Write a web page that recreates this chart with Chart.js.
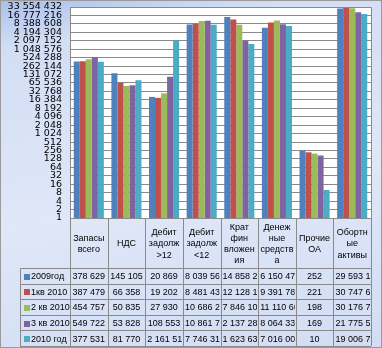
<!DOCTYPE html>
<html>
<head>
<meta charset="utf-8">
<script src="https://cdn.jsdelivr.net/npm/chart.js@4"></script>
<style>
  html, body { margin: 0; padding: 0; }
  body {
    width: 382px; height: 348px; overflow: hidden;
    background: linear-gradient(170deg, #a9bfea 0%, #d3def5 12%, #dfe7f8 55%, #d2ddf4 100%);
  }
  #wrap { position: relative; width: 382px; height: 348px; }
</style>
</head>
<body>
<div id="wrap"><canvas id="c" width="382" height="348"></canvas></div>
<script>
// -- Data --
const categories = [
  ['Запасы', 'всего'],
  ['НДС'],
  ['Дебит', 'задолж', '>12'],
  ['Дебит', 'задолж', '<12'],
  ['Крат', 'фин', 'вложен', 'ия'],
  ['Денеж', 'ные', 'средств', 'а'],
  ['Прочие', 'ОА'],
  ['Обортн', 'ые', 'активы']
];
const seriesNames = ['2009год', '1кв 2010', '2 кв 2010', '3 кв 2010', '2010 год'];
const y2009 = [378629, 145105, 20869, 8039560, 14858200, 6150470, 252, 29593100];
const q1_2010 = [387479, 66358, 19202, 8481430, 12128100, 9391780, 221, 30747600];
const q2_2010 = [454757, 50835, 27930, 10686200, 7846100, 11110600, 198, 30176700];
const q3_2010 = [549722, 53828, 108553, 10861700, 2137280, 8064330, 169, 21775500];
const y2010 = [377531, 81770, 2161510, 7746310, 1623630, 7016000, 10, 19006700];
const yTicks = [1, 2, 4, 8, 16, 32, 64, 128, 256, 512, 1024, 2048, 4096, 8192, 16384, 32768,
  65536, 131072, 262144, 524288, 1048576, 2097152, 4194304, 8388608, 16777216, 33554432];

const seriesData = [y2009, q1_2010, q2_2010, q3_2010, y2010];
const colors = ['#4f81bd', '#c0504d', '#9bbb59', '#8064a2', '#4bacc6'];
const lineColor = '#8a8a8a';
const fontFam = '"Liberation Sans", Arial, sans-serif';

function fmt(v) {
  return String(Math.round(v)).replace(/\B(?=(\d{3})+(?!\d))/g, ' ');
}

// -- Plugins --
const plotBg = {
  id: 'plotBg',
  beforeDraw(chart) {
    const { ctx, chartArea: a } = chart;
    ctx.save();
    ctx.fillStyle = '#fff';
    ctx.fillRect(a.left, a.top, a.right - a.left, a.bottom - a.top);
    ctx.restore();
  }
};

const dataTable = {
  id: 'dataTable',
  afterDraw(chart) {
    const { ctx, chartArea: a } = chart;
    const xs = chart.scales.x;
    const n = categories.length;
    const colW = (a.right - a.left) / n;
    const edges = [];
    for (let i = 0; i < n; i++) edges.push(xs.getPixelForValue(i) - colW / 2);
    edges.push(xs.getPixelForValue(n - 1) + colW / 2);

    const headTop = a.bottom;
    const headBottom = 268;
    const tableBottom = 346;
    const legLeft = 20;
    const rowH = (tableBottom - headBottom) / seriesNames.length;
    const px = v => Math.round(v) + 0.5;

    ctx.save();
    ctx.strokeStyle = lineColor;
    ctx.lineWidth = 1;
    ctx.beginPath();
    // plot border
    ctx.rect(px(a.left), px(a.top), Math.round(a.right - a.left), Math.round(a.bottom - a.top));
    // column lines
    edges.forEach(e => { ctx.moveTo(px(e), headTop); ctx.lineTo(px(e), tableBottom); });
    ctx.moveTo(px(legLeft), headBottom); ctx.lineTo(px(legLeft), tableBottom);
    // row lines
    for (let r = 0; r <= seriesNames.length; r++) {
      const y = px(headBottom + r * rowH);
      ctx.moveTo(legLeft, y); ctx.lineTo(edges[n], y);
    }
    ctx.stroke();

    // header text
    ctx.fillStyle = '#000';
    ctx.font = '9px ' + fontFam;
    ctx.textAlign = 'center';
    ctx.textBaseline = 'middle';
    const lh = 11.3;
    categories.forEach((lines, i) => {
      const cx = (edges[i] + edges[i + 1]) / 2;
      const cy = (headTop + headBottom) / 2 + 1;
      lines.forEach((t, k) => {
        ctx.fillText(t, cx, cy + (k - (lines.length - 1) / 2) * lh);
      });
    });

    // rows
    ctx.font = '9px ' + fontFam;
    seriesNames.forEach((name, r) => {
      const cy = headBottom + r * rowH + rowH / 2 + 1;
      ctx.fillStyle = colors[r];
      ctx.fillRect(24, Math.round(cy - 3), 6, 6);
      ctx.fillStyle = '#000';
      ctx.textAlign = 'left';
      ctx.fillText(name, 31, cy);
      seriesData[r].forEach((v, i) => {
        const txt = fmt(v);
        const w = ctx.measureText(txt).width;
        const l = edges[i], rr = edges[i + 1];
        ctx.save();
        ctx.beginPath();
        ctx.rect(l + 1, cy - 8, rr - l - 2, 16);
        ctx.clip();
        if (w > rr - l - 4) {
          ctx.textAlign = 'left';
          ctx.fillText(txt, l + 2, cy);
        } else {
          ctx.textAlign = 'center';
          ctx.fillText(txt, (l + rr) / 2, cy);
        }
        ctx.restore();
      });
    });

    // outer frame
    ctx.strokeStyle = '#9a9a9a';
    ctx.strokeRect(0.5, 0.5, chart.width - 1, chart.height - 1);
    ctx.restore();
  }
};

// -- Chart --
new Chart(document.getElementById('c'), {
  type: 'bar',
  data: {
    labels: categories.map(c => c.join(' ')),
    datasets: seriesNames.map((name, i) => ({
      label: name,
      data: seriesData[i],
      backgroundColor: colors[i],
      borderWidth: 0,
      barPercentage: 1,
      categoryPercentage: 0.8
    }))
  },
  options: {
    responsive: false,
    animation: false,
    events: [],
    layout: { padding: { top: 7, right: 11, bottom: 130, left: 0 } },
    plugins: { legend: { display: false }, tooltip: { enabled: false } },
    scales: {
      x: { display: false },
      y: {
        type: 'logarithmic',
        min: 1,
        max: 33554432,
        afterBuildTicks: scale => { scale.ticks = yTicks.map(v => ({ value: v })); },
        afterFit: scale => { scale.width = 70; scale.paddingTop = 0; scale.paddingBottom = 0; },
        grid: { color: lineColor, drawTicks: false },
        border: { display: false },
        ticks: {
          autoSkip: false,
          padding: 8,
          color: '#000',
          font: { family: '"DejaVu Sans", sans-serif', size: 9.5 },
          callback: v => fmt(v)
        }
      }
    }
  },
  plugins: [plotBg, dataTable]
});
</script>
</body>
</html>
